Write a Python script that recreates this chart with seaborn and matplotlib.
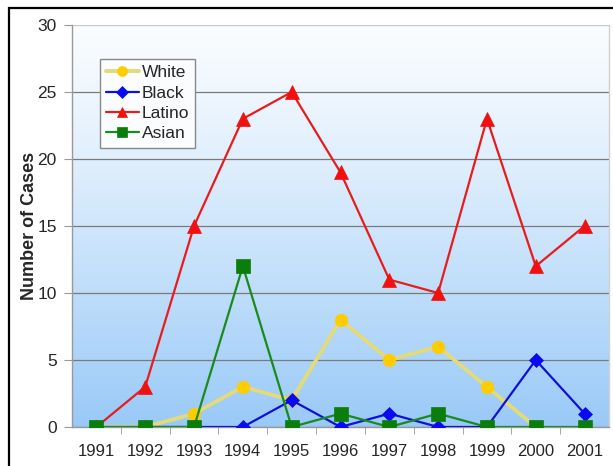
import numpy as np
import pandas as pd
import matplotlib
matplotlib.use("Agg")
import matplotlib.pyplot as plt
from matplotlib.patches import Rectangle
import seaborn as sns

years = [1991, 1992, 1993, 1994, 1995, 1996, 1997, 1998, 1999, 2000, 2001]
white = [0, 0, 1, 3, 2, 8, 5, 6, 3, 0, np.nan]
black = [0, 0, 0, 0, 2, 0, 1, 0, 0, 5, 1]
latino = [0, 3, 15, 23, 25, 19, 11, 10, 23, 12, 15]
asian = [0, 0, 0, 12, 0, 1, 0, 1, 0, 0, 0]

df = pd.DataFrame({"year": years, "White": white, "Black": black,
                   "Latino": latino, "Asian": asian})

sns.set_style("white")
plt.rcParams["font.family"] = ["Liberation Sans", "DejaVu Sans"]

fig = plt.figure(figsize=(6.13, 4.66), dpi=100)
ax = fig.add_axes([72 / 613, 39 / 466, 537 / 613, 402 / 466])

# gradient background, white at top to light blue at bottom
top = np.array([0.98, 0.99, 1.0])
bot = np.array([0.60, 0.79, 0.97])
t = np.linspace(0, 1, 256)[:, None] ** 1.2
grad = (top * (1 - t) + bot * t)[:, None, :]
ax.imshow(grad, extent=[0, 1, 0, 1], transform=ax.transAxes,
          aspect="auto", zorder=0)

# series styles: (column, line colour, marker, marker colour, line width, marker size)
styles = [
    ("White", "#e3da7a", "o", "#ffcc00", 2.8, 9),
    ("Black", "#1010d8", "D", "#0a0af0", 1.6, 7.5),
    ("Latino", "#e81c1c", "^", "#f01010", 1.6, 9.5),
    ("Asian", "#1a8a1a", "s", "#0b7d0b", 1.6, 9.5),
]
for i, (col, lc, mk, mc, lw, ms) in enumerate(styles):
    sns.lineplot(data=df, x="year", y=col, ax=ax, color=lc, lw=lw,
                 marker=mk, markersize=ms, markerfacecolor=mc,
                 markeredgecolor=mc, markeredgewidth=0.5,
                 label=col, zorder=3 + i)

ax.set_xlim(years[0] - 0.5, years[-1] + 0.5)
ax.set_ylim(0, 30)
ax.set_yticks(range(0, 31, 5))
ax.set_xticks(years)
ax.set_xticks([y + 0.5 for y in years[:-1]], minor=True)
ax.yaxis.grid(True, color="#7a7a7a", lw=0.9)
ax.set_axisbelow(True)
for g in ax.get_ygridlines():
    g.set_zorder(1)
ax.get_ygridlines()[-1].set_color("#c8c8c8")

ax.spines["top"].set_visible(False)
ax.spines["right"].set_color("#d0d0d0")
ax.spines["right"].set_linewidth(1)
for s in ["left", "bottom"]:
    ax.spines[s].set_color("#999999")
    ax.spines[s].set_linewidth(1)

ax.tick_params(axis="y", which="major", length=6, color="#999999",
               labelsize=12.5, pad=5, left=True)
ax.tick_params(axis="x", which="major", length=0, labelsize=12, pad=12)
ax.tick_params(axis="x", which="minor", length=5, color="#999999",
               bottom=True, direction="out")

ax.set_xlabel("")
ax.set_ylabel("Number of Cases", fontsize=13, fontweight="bold")
ax.yaxis.set_label_coords(-42 / 537, 0.5)
ax.yaxis.label.set_va("center")

leg = ax.legend(loc="upper left", bbox_to_anchor=(0.052, 0.915),
                borderaxespad=0, fontsize=12.5, handlelength=1.9,
                handletextpad=0.15, labelspacing=0.3, borderpad=0.35,
                markerscale=0.8, fancybox=False, framealpha=1,
                edgecolor="#888888", facecolor="#fbfcfe")
leg.get_frame().set_linewidth(1)

# outer black frame of the slide (left and top edges visible)
fig.patches.append(Rectangle((8.5 / 613, -0.05), 1.2, 1.05 - 8 / 466,
                             transform=fig.transFigure, fill=False,
                             edgecolor="black", lw=1.6))

fig.savefig("out.png", dpi=100)
